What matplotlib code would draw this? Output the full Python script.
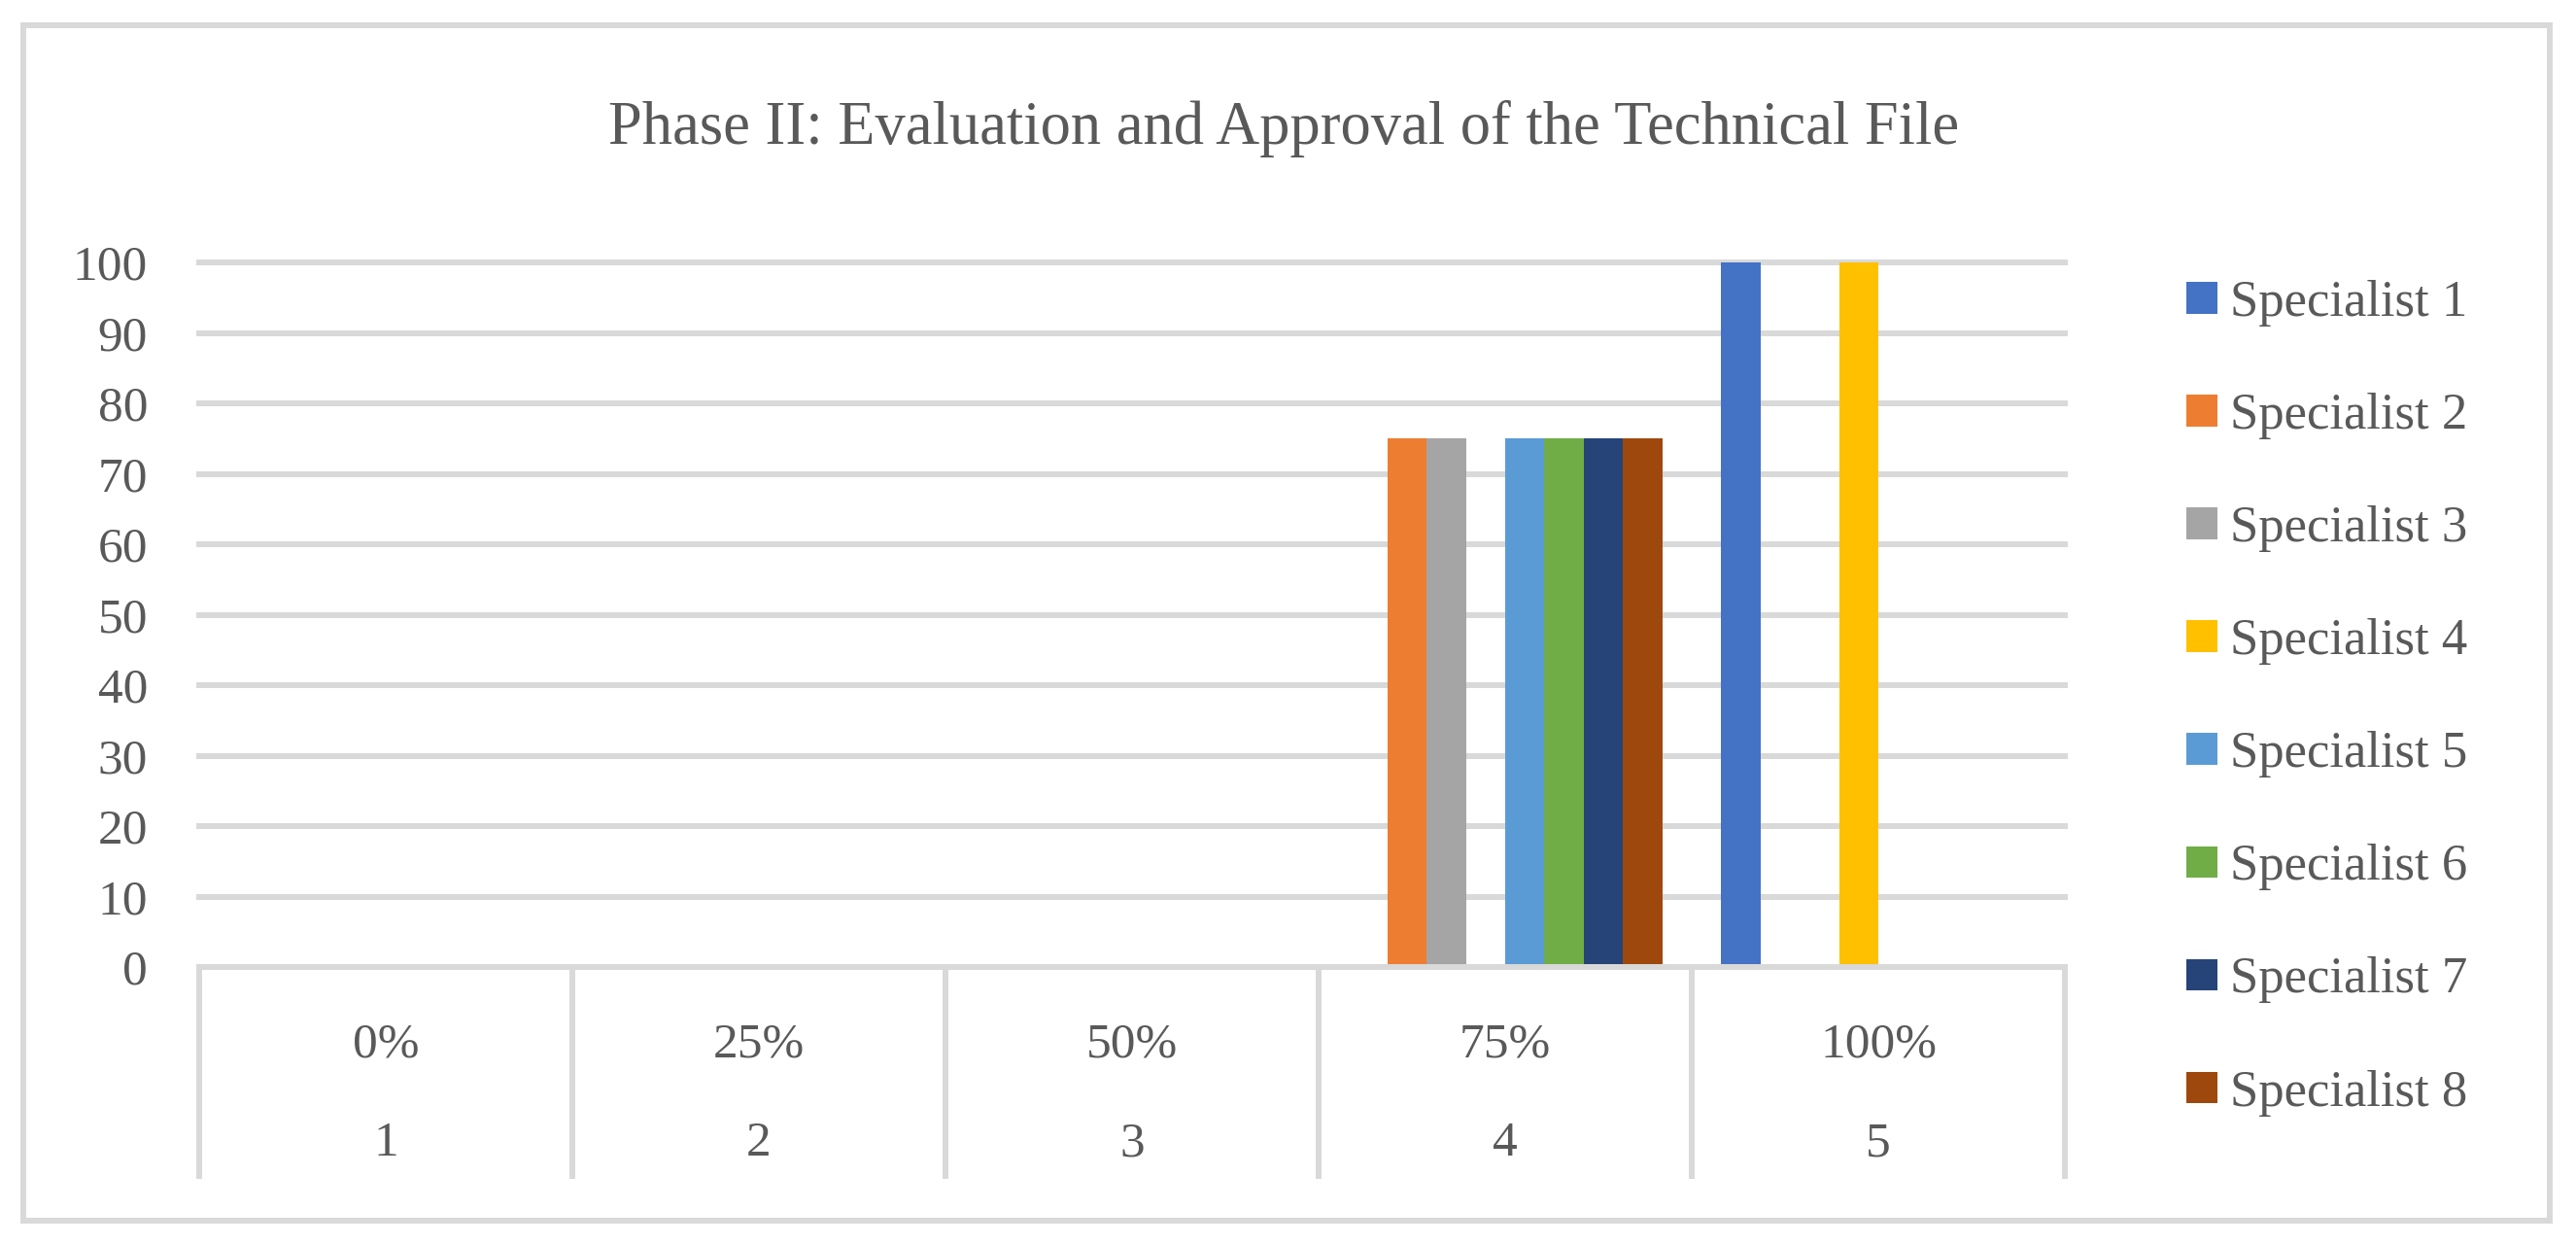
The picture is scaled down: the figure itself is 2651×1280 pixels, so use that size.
import numpy as np
import matplotlib.pyplot as plt
from matplotlib.patches import Rectangle
import matplotlib.transforms as mtransforms

#
#   grouped bars, Phase II ratings per specialist
#
categories = ['1', '2', '3', '4', '5']
pct_labels = ['0%', '25%', '50%', '75%', '100%']
specialists = ['Specialist 1', 'Specialist 2', 'Specialist 3', 'Specialist 4',
               'Specialist 5', 'Specialist 6', 'Specialist 7', 'Specialist 8']
values = [
    [0, 0, 0, 0, 100],
    [0, 0, 0, 75, 0],
    [0, 0, 0, 75, 0],
    [0, 0, 0, 0, 100],
    [0, 0, 0, 75, 0],
    [0, 0, 0, 75, 0],
    [0, 0, 0, 75, 0],
    [0, 0, 0, 75, 0],
]
colors = ['#4472c4', '#ed7d31', '#a5a5a5', '#ffc000',
          '#5b9bd5', '#70ad47', '#264478', '#9e480e']
yticks = [0, 10, 20, 30, 40, 50, 60, 70, 80, 90, 100]

W, H = 2651, 1280
DPI = 100
txt = '#595959'
grid = '#d9d9d9'
plt.rcParams['font.family'] = ['Liberation Serif', 'DejaVu Serif']

fig = plt.figure(figsize=(W / DPI, H / DPI), dpi=DPI)
fig.patch.set_facecolor('white')

# outer chart border
fig.patches.append(Rectangle((24 / W, 1 - 1256 / H), (2624 - 24) / W, (1256 - 26) / H,
                             transform=fig.transFigure, fill=False,
                             edgecolor=grid, linewidth=4.3))

left, right, top, bottom = 205, 2125, 270, 995
ax = fig.add_axes([left / W, 1 - bottom / H, (right - left) / W, (bottom - top) / H])

x = np.arange(len(categories))
n = len(specialists)
w = 1 / (n + 1.5)
for i in range(n):
    ax.bar(x + (i - (n - 1) / 2) * w, values[i], width=w, color=colors[i],
           label=specialists[i], zorder=3)

ax.set_xlim(-0.5, len(categories) - 0.5)
ax.set_ylim(0, 100)
ax.set_yticks(yticks)
ax.set_yticklabels([str(v) for v in yticks], fontsize=37, color=txt)
ax.tick_params(axis='y', length=0, pad=38)
ax.set_xticks([])
for s in ax.spines.values():
    s.set_visible(False)
for v in yticks[1:]:
    ax.axhline(v, color=grid, lw=4.3, zorder=1, clip_on=False)

# category "table" under the plot
ax.axhline(0, color=grid, lw=4.3, zorder=4, clip_on=False)
tr = mtransforms.blended_transform_factory(ax.transData, ax.transAxes)
box_bottom = -(1213 - bottom) / (bottom - top)
for b in np.arange(len(categories) + 1) - 0.5:
    ax.plot([b, b], [0, box_bottom], transform=tr, color=grid, lw=4.3,
            clip_on=False, solid_capstyle='butt')
row1 = -(1075 - bottom) / (bottom - top)
row2 = -(1177 - bottom) / (bottom - top)
for xi, p, c in zip(x, pct_labels, categories):
    ax.text(xi, row1, p, transform=tr, ha='center', va='center', fontsize=37, color=txt)
    ax.text(xi, row2, c, transform=tr, ha='center', va='center', fontsize=37, color=txt)

fig.text(1321 / W, 1 - 148 / H, 'Phase II: Evaluation and Approval of the Technical File',
         ha='center', va='baseline', fontsize=45, color=txt)

leg = ax.legend(loc='upper left', bbox_to_anchor=(2250 / W, 1 - 288 / H),
                bbox_transform=fig.transFigure, frameon=False, fontsize=38,
                handlelength=0.6, handleheight=0.57, handletextpad=0.25,
                labelspacing=1.29, borderpad=0, borderaxespad=0)
for t in leg.get_texts():
    t.set_color(txt)

fig.savefig('out.png', dpi=DPI, facecolor='white')
